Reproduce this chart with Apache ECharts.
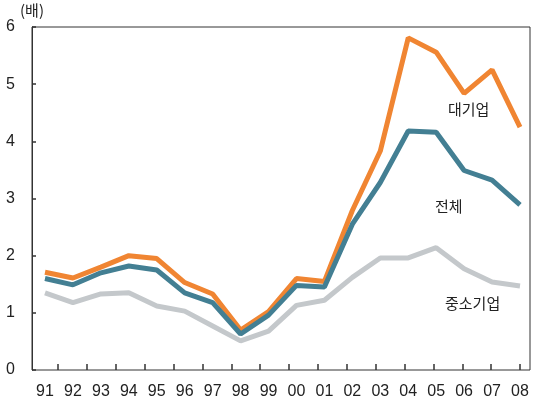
<!DOCTYPE html>
<html><head><meta charset="utf-8">
<script src="https://cdn.jsdelivr.net/npm/echarts@6/dist/echarts.min.js"></script>
<style>html,body{margin:0;padding:0;background:#fff}#c{width:534px;height:402px}</style>
</head><body><div id="c"></div>
<script>
const categories = ['91','92','93','94','95','96','97','98','99','00','01','02','03','04','05','06','07','08'];
const large = [1.71,1.61,1.80,2.00,1.95,1.53,1.33,0.70,1.02,1.60,1.55,2.79,3.83,5.81,5.56,4.84,5.25,4.25];
const total = [1.60,1.49,1.70,1.82,1.75,1.35,1.18,0.63,0.96,1.48,1.45,2.55,3.28,4.18,4.16,3.49,3.32,2.89];
const sme   = [1.35,1.18,1.33,1.35,1.12,1.03,0.77,0.51,0.68,1.13,1.22,1.62,1.96,1.96,2.14,1.77,1.54,1.47];
const yTicks = [0,1,2,3,4,5,6];
const seriesNames = ['중소기업','대기업','전체'];
const tickSlots = categories.slice(1);

const chart = echarts.init(document.getElementById('c'), null, {renderer:'canvas'});
const numFont = 'Liberation Sans, Arial, sans-serif';
const krFont = '"Noto Sans CJK KR", sans-serif';
chart.setOption({
  animation:false,
  grid:[
    {left:45, right:14, top:27, bottom:32},
    {left:32, right:4, top:27, bottom:32, show:true, borderColor:'#333', borderWidth:1, backgroundColor:'transparent'},
    {left:58, right:14, top:27, bottom:32}
  ],
  xAxis:[
    {type:'category', gridIndex:0, data:categories, boundaryGap:false,
     axisLine:{show:false}, axisTick:{show:false},
     axisLabel:{color:'#222', fontSize:16, fontFamily:numFont, margin:14, interval:0}},
    {type:'category', gridIndex:1, data:categories, show:false},
    {type:'category', gridIndex:2, data:tickSlots, boundaryGap:false,
     axisLine:{show:false}, axisLabel:{show:false},
     axisTick:{show:true, inside:true, length:6, interval:0, lineStyle:{color:'#333', width:1.5}}}
  ],
  yAxis:[
    {type:'value', gridIndex:0, min:0, max:6, show:false},
    {type:'value', gridIndex:1, min:yTicks[0], max:yTicks[yTicks.length-1], interval:1,
     name:'(배)', nameLocation:'end', nameGap:9,
     nameTextStyle:{color:'#222', fontSize:15, fontFamily:krFont, align:'center'},
     axisLine:{show:true, lineStyle:{color:'#333', width:1}},
     axisTick:{show:true, inside:true, length:4, lineStyle:{color:'#333', width:1.5}},
     splitLine:{show:false},
     axisLabel:{color:'#222', fontSize:16, fontFamily:numFont, margin:17}},
    {type:'value', gridIndex:2, min:0, max:6, show:false}
  ],
  series:[
    {name:seriesNames[0], type:'line', xAxisIndex:0, yAxisIndex:0, data:sme, symbol:'none',
     lineStyle:{color:'#C4C8CB', width:5}},
    {name:seriesNames[1], type:'line', xAxisIndex:0, yAxisIndex:0, data:large, symbol:'none',
     lineStyle:{color:'#F08532', width:5}},
    {name:seriesNames[2], type:'line', xAxisIndex:0, yAxisIndex:0, data:total, symbol:'none',
     lineStyle:{color:'#437F93', width:5}}
  ],
  graphic:[
    {type:'text', left:448, top:102, style:{text:seriesNames[1], fontSize:15, fontFamily:krFont, fill:'#222'}},
    {type:'text', left:435, top:199, style:{text:seriesNames[2], fontSize:15, fontFamily:krFont, fill:'#222'}},
    {type:'text', left:445, top:296, style:{text:seriesNames[0], fontSize:15, fontFamily:krFont, fill:'#222'}}
  ]
});
</script></body></html>
